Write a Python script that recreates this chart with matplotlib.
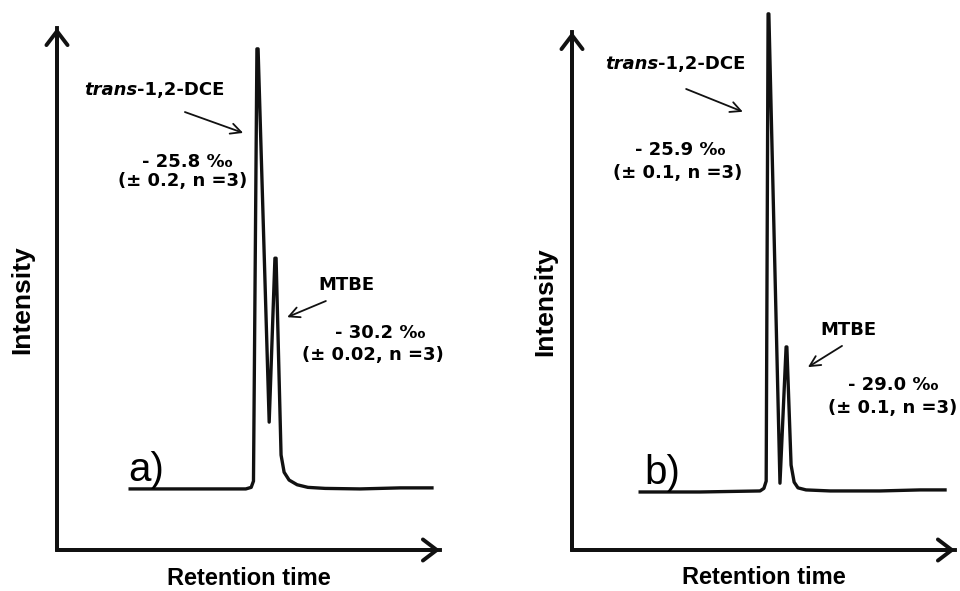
import matplotlib
matplotlib.use("Agg")
import matplotlib.pyplot as plt

plt.rcParams['font.family'] = ['Liberation Sans', 'DejaVu Sans']

# chromatogram traces, normalised units (retention time 0-100, intensity 0-100)
time_a = [19.1, 37.3, 49.3, 50.7, 51.3, 52.2, 52.5, 55.4, 56.9, 57.2, 58.5,
          59.3, 60.6, 62.7, 65.5, 70.0, 79.1, 89.6, 97.9]
signal_a = [11.7, 11.7, 11.7, 12.0, 13.2, 96.0, 96.0, 24.5, 55.9, 55.9, 18.2,
            14.9, 13.4, 12.5, 12.0, 11.8, 11.7, 11.9, 11.9]

time_b = [17.8, 33.4, 49.1, 50.1, 50.7, 51.2, 51.4, 54.3, 55.9, 56.1, 57.2,
          58.0, 59.0, 61.1, 67.4, 80.4, 90.9, 97.4]
signal_b = [11.2, 11.2, 11.4, 11.9, 13.3, 103.5, 103.5, 12.9, 39.2, 39.2, 16.4,
            13.1, 12.0, 11.6, 11.4, 11.4, 11.6, 11.6]

# isotope values per compound
dce_delta = ["- 25.8 ‰", "- 25.9 ‰"]
dce_sd = ["(± 0.2, n =3)", "(± 0.1, n =3)"]
mtbe_delta = ["- 30.2 ‰", "- 29.0 ‰"]
mtbe_sd = ["(± 0.02, n =3)", "(± 0.1, n =3)"]
panel_tags = ["a)", "b)"]

fig = plt.figure(figsize=(9.6, 5.91), dpi=100)
ax_a = fig.add_axes([57 / 960, 41 / 591, 383 / 960, 522 / 591])
ax_b = fig.add_axes([572 / 960, 41 / 591, 383 / 960, 518 / 591])

# annotation labels use a wide bold face
fs = 13
note = ['DejaVu Sans']
txt = dict(fontsize=fs, fontweight='bold', ha='center', va='center', family=note)


def draw_axes(ax, ylab_x):
    ax.set_xlim(0, 100)
    ax.set_ylim(0, 100)
    ax.axis('off')
    ax.plot([0, 0, 1], [1, 0, 0], transform=ax.transAxes, color='#111111',
            lw=2.8, solid_joinstyle='miter', clip_on=False)
    for tip in [(0, 1), (1, 0)]:
        ax.annotate('', xy=tip, xytext=(0, 0), xycoords='axes fraction',
                    arrowprops=dict(arrowstyle='->,head_length=0.5,head_width=0.38',
                                    lw=2.8, color='#111111', shrinkA=0, shrinkB=0,
                                    mutation_scale=20))
    ax.text(ylab_x, 0.48, 'Intensity', transform=ax.transAxes, rotation=90,
            fontsize=19, fontweight='bold', ha='center', va='center')
    ax.text(0.5, -0.054, 'Retention time', transform=ax.transAxes,
            fontsize=17, fontweight='bold', ha='center', va='center')


def arrow(ax, tail, head):
    ax.annotate('', xy=head, xytext=tail,
                arrowprops=dict(arrowstyle='->,head_length=0.5,head_width=0.25',
                                lw=1.3, color='#111111', shrinkA=0, shrinkB=0,
                                mutation_scale=15))


def label_dce(ax, split, y):
    ax.text(split, y, 'trans', fontsize=fs, fontweight='bold', style='italic',
            ha='right', va='center', family=note)
    ax.text(split, y, '-1,2-DCE', fontsize=fs, fontweight='bold',
            ha='left', va='center', family=note)


# panel a
draw_axes(ax_a, -0.091)
ax_a.plot(time_a, signal_a, color='#111111', lw=2.4, solid_joinstyle='round',
          clip_on=False)
label_dce(ax_a, 20.9, 88.1)
arrow(ax_a, (33.4, 83.9), (48.6, 79.9))
ax_a.text(33.9, 74.3, dce_delta[0], **txt)
ax_a.text(32.9, 70.7, dce_sd[0], **txt)
ax_a.text(75.5, 50.8, 'MTBE', **txt)
arrow(ax_a, (70.2, 47.7), (60.1, 44.6))
ax_a.text(84.3, 41.6, mtbe_delta[0], **txt)
ax_a.text(82.5, 37.4, mtbe_sd[0], **txt)
ax_a.text(23.2, 15.3, panel_tags[0], fontsize=29, ha='center', va='center')

# panel b
draw_axes(ax_b, -0.0705)
ax_b.plot(time_b, signal_b, color='#111111', lw=2.4, solid_joinstyle='round',
          clip_on=False)
label_dce(ax_b, 22.5, 93.8)
arrow(ax_b, (29.8, 89.0), (44.6, 84.6))
ax_b.text(28.2, 77.2, dce_delta[1], **txt)
ax_b.text(27.7, 72.8, dce_sd[1], **txt)
ax_b.text(72.3, 42.5, 'MTBE', **txt)
arrow(ax_b, (70.5, 39.4), (61.6, 35.3))
ax_b.text(83.8, 31.9, mtbe_delta[1], **txt)
ax_b.text(83.8, 27.4, mtbe_sd[1], **txt)
ax_b.text(23.5, 14.9, panel_tags[1], fontsize=29, ha='center', va='center')

fig.savefig('out.png', dpi=100, facecolor='white')
